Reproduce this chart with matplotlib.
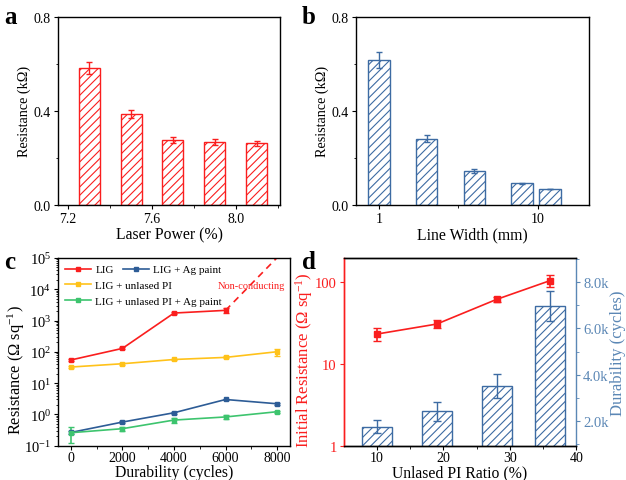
import matplotlib
matplotlib.use("Agg")
import matplotlib.pyplot as plt
import matplotlib.ticker as mticker
from matplotlib.lines import Line2D

# ---- data ----
# (a) laser power
power = [7.3, 7.5, 7.7, 7.9, 8.1]
power_res = [0.584, 0.386, 0.275, 0.266, 0.262]
power_err = [0.026, 0.017, 0.012, 0.013, 0.010]

# (b) line width (mm)
width_mm = [1, 2, 4, 8, 12]
width_res = [0.617, 0.282, 0.144, 0.091, 0.067]
width_err = [0.034, 0.015, 0.010, 0.003, 0.002]

# (c) durability
cycles = [0, 2000, 4000, 6000, 8000]
lig = [55, 129, 1740, 2120]
lig_err = [4, 10, 120, 350]
lig_fail_x = [6000, 8100]
lig_fail_y = [2120, 1.25e5]
lig_pi = [32.7, 41.7, 57, 66.5, 101]
lig_pi_err = [2, 3, 4, 5, 25]
lig_ag = [0.265, 0.57, 1.13, 3.0, 2.19]
lig_ag_err = [0.02, 0.05, 0.1, 0.15, 0.2]
lig_pi_ag = [0.26, 0.35, 0.66, 0.83, 1.22]
lig_pi_ag_err = [0.14, 0.05, 0.12, 0.12, 0.1]

# (d) unlased PI ratio
ratio = [10, 19, 28, 36]
init_res = [23.3, 30.9, 61.9, 104.8]
init_res_err = [4.3, 3.5, 4.0, 18.0]
dura = [1740, 2404, 3509, 6953]
dura_err = [270, 400, 530, 650]

RED = "#FA1E1E"
BLUE = "#3D6BA3"
BLUE_LINE = "#2D5C96"
YELLOW = "#FFC21A"
GREEN = "#3DC46E"
SPINE_BLUE = "#5B87B5"

plt.rcParams["font.family"] = ["Liberation Serif", "DejaVu Serif"]
plt.rcParams["mathtext.fontset"] = "custom"
plt.rcParams["mathtext.rm"] = "Liberation Serif"
plt.rcParams["mathtext.it"] = "Liberation Serif:italic"
plt.rcParams["font.size"] = 10
plt.rcParams["axes.linewidth"] = 1.0
plt.rcParams["hatch.linewidth"] = 0.8
plt.rcParams["xtick.major.size"] = 3
plt.rcParams["ytick.major.size"] = 3
plt.rcParams["xtick.minor.size"] = 1.8
plt.rcParams["ytick.minor.size"] = 1.8
plt.rcParams["xtick.major.pad"] = 2
plt.rcParams["ytick.major.pad"] = 2

W, H = 626, 481
fig = plt.figure(figsize=(W / 100, H / 100), dpi=100)


def px_axes(left, right, top, bottom):
    return fig.add_axes([left / W, 1 - bottom / H, (right - left) / W, (bottom - top) / H])


XLABEL_FS = 11.3

# ---- (a) ----
ax = px_axes(58, 280, 18, 205.7)
ax.bar(power, power_res, width=0.1, color="white", edgecolor=RED, hatch="////", linewidth=1.0)
ax.errorbar(power, power_res, yerr=power_err, fmt="none", ecolor=RED, elinewidth=1, capsize=2.5)
ax.set_xlim(7.152, 8.21)
ax.set_ylim(0, 0.8)
ax.set_xticks([7.2, 7.6, 8.0])
ax.xaxis.set_minor_locator(mticker.FixedLocator([7.4, 7.8, 8.2]))
ax.set_yticks([0.0, 0.4, 0.8])
ax.yaxis.set_minor_locator(mticker.FixedLocator([0.2, 0.6]))
ax.xaxis.set_major_formatter(mticker.FormatStrFormatter("%.1f"))
ax.yaxis.set_major_formatter(mticker.FormatStrFormatter("%.1f"))
ax.tick_params(labelsize=10)
ax.set_xlabel("Laser Power (%)", fontsize=XLABEL_FS, labelpad=1)
ax.set_ylabel("Resistance (k\u03a9)", fontsize=10.2, labelpad=2)
fig.text(4 / W, 1 - 17 / H, "a", fontsize=18, fontweight="bold", va="center")

# ---- (b) ----
ax = px_axes(355.7, 589, 18, 205.7)
half = 10 ** 0.068
lefts = [w / half for w in width_mm]
widths = [w * half - w / half for w in width_mm]
ax.bar(lefts, width_res, width=widths, align="edge", color="white", edgecolor=BLUE,
       hatch="////", linewidth=1.0)
ax.errorbar(width_mm, width_res, yerr=width_err, fmt="none", ecolor=BLUE, elinewidth=1, capsize=2.5)
ax.set_xscale("log")
ax.set_xlim(0.716, 21.1)
ax.set_ylim(0, 0.8)
ax.set_xticks([1, 10])
ax.xaxis.set_major_formatter(mticker.FormatStrFormatter("%d"))
ax.xaxis.set_minor_locator(mticker.FixedLocator([10 ** 0.5]))
ax.xaxis.set_minor_formatter(mticker.NullFormatter())
ax.set_yticks([0.0, 0.4, 0.8])
ax.yaxis.set_minor_locator(mticker.FixedLocator([0.2, 0.6]))
ax.yaxis.set_major_formatter(mticker.FormatStrFormatter("%.1f"))
ax.tick_params(labelsize=10)
ax.set_xlabel("Line Width (mm)", fontsize=XLABEL_FS, labelpad=1)
ax.set_ylabel("Resistance (k\u03a9)", fontsize=10.2, labelpad=2)
fig.text(302 / W, 1 - 17 / H, "b", fontsize=18, fontweight="bold", va="center")

# ---- (c) ----
ax = px_axes(58, 290, 259, 446.7)
kw = dict(marker="s", markersize=3.5, linewidth=1.2, elinewidth=1.2, capsize=2.5)
ax.errorbar(cycles[:4], lig, yerr=lig_err, color=RED, **kw)
ax.plot(lig_fail_x, lig_fail_y, color=RED, linestyle=(0, (4, 3)), linewidth=1.2)
ax.errorbar(cycles, lig_pi, yerr=lig_pi_err, color=YELLOW, **kw)
ax.errorbar(cycles, lig_ag, yerr=lig_ag_err, color=BLUE_LINE, **kw)
ax.errorbar(cycles, lig_pi_ag, yerr=lig_pi_ag_err, color=GREEN, **kw)
ax.set_yscale("log")
ax.set_xlim(-500, 8500)
ax.set_ylim(0.1, 1e5)
ax.set_xticks([0, 2000, 4000, 6000, 8000])
ax.xaxis.set_minor_locator(mticker.FixedLocator([1000, 3000, 5000, 7000]))
ax.yaxis.set_major_locator(mticker.LogLocator(base=10, numticks=10))
ax.yaxis.set_minor_locator(mticker.LogLocator(base=10, subs=range(2, 10), numticks=20))
ax.yaxis.set_minor_formatter(mticker.NullFormatter())
ax.tick_params(axis="y", labelsize=10.5)
ax.tick_params(axis="x", labelsize=10, pad=1)
ax.tick_params(axis="y", which="minor", length=1.5)
ax.set_xlabel("Durability (cycles)", fontsize=XLABEL_FS, labelpad=0)
ax.set_ylabel("Resistance (\u03a9 sq$^{-1}$)", fontsize=11.8)
ax.yaxis.set_label_coords(-0.135, 0.41)
ax.text(7000, 1.3e4, "Non-conducting", color=RED, fontsize=7.5, ha="center", va="center")


def leg_handle(c):
    return Line2D([], [], color=c, marker="s", markersize=3.2, linewidth=1.2)


leg_kw = dict(frameon=False, fontsize=8, handlelength=2.4, handletextpad=0.35,
              labelspacing=0.55, borderaxespad=0.3, borderpad=0.3, loc="upper left")
leg1 = ax.legend([leg_handle(RED), leg_handle(YELLOW), leg_handle(GREEN)],
                 ["LIG", "LIG + unlased PI", "LIG + unlased PI + Ag paint"],
                 bbox_to_anchor=(0.0, 1.0), **leg_kw)
ax.add_artist(leg1)
ax.legend([leg_handle(BLUE_LINE)], ["LIG + Ag paint"], bbox_to_anchor=(0.25, 1.0), **leg_kw)
fig.text(4 / W, 1 - 263 / H, "c", fontsize=18, fontweight="bold", va="center")

# ---- (d) ----
ax = px_axes(343.7, 576.3, 259, 446.7)
ax2 = ax.twinx()
ax2.bar(ratio, dura, width=4.5, bottom=0, color="white", edgecolor=BLUE, hatch="////",
        linewidth=1.0)
ax2.errorbar(ratio, dura, yerr=dura_err, fmt="none", ecolor=BLUE, elinewidth=1, capsize=3)
ax2.set_ylim(917, 9054)
ax2.set_yticks([2000, 4000, 6000, 8000])
ax2.yaxis.set_minor_locator(mticker.FixedLocator([1000, 3000, 5000, 7000, 9000]))
ax2.yaxis.set_major_formatter(mticker.FuncFormatter(lambda v, p: f"{v / 1000:.1f}k"))
ax2.tick_params(axis="y", which="both", colors=SPINE_BLUE, labelsize=10.5)
ax2.set_ylabel("Durability (cycles)", color=SPINE_BLUE, fontsize=12, labelpad=1)
ax2.spines["right"].set_color(SPINE_BLUE)
ax2.spines["left"].set_color(RED)

ax.set_zorder(ax2.get_zorder() + 1)
ax.patch.set_visible(False)
ax.errorbar(ratio, init_res, yerr=init_res_err, color=RED, marker="s", markersize=4,
            linewidth=1.2, elinewidth=1.2, capsize=3)
ax.set_yscale("log")
ax.set_ylim(1, 199)
ax.set_xlim(5, 40)
ax.set_yticks([1, 10, 100])
ax.yaxis.set_major_formatter(mticker.FormatStrFormatter("%d"))
ax.yaxis.set_minor_locator(mticker.NullLocator())
ax.set_xticks([10, 20, 30, 40])
ax.xaxis.set_minor_locator(mticker.FixedLocator([15, 25, 35]))
ax.tick_params(axis="y", colors=RED, labelsize=10.5)
ax.tick_params(axis="x", labelsize=10, pad=1)
ax.spines["left"].set_color(RED)
ax.spines["right"].set_visible(False)
ax.set_ylabel("Initial Resistance (\u03a9 sq$^{-1}$)", color=RED, fontsize=12)
ax.yaxis.set_label_coords(-0.125, 0.46)
ax.set_xlabel("Unlased PI Ratio (%)", fontsize=XLABEL_FS, labelpad=0)
fig.text(302 / W, 1 - 263 / H, "d", fontsize=18, fontweight="bold", va="center")

fig.savefig("out.png", dpi=100)
